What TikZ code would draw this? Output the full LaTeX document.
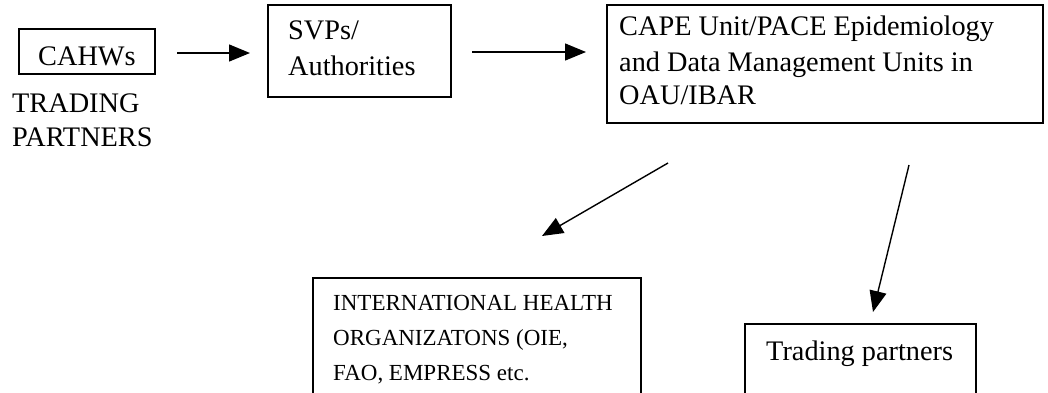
\documentclass[tikz,border=0pt]{standalone}
\usepackage{fontspec}
\setmainfont{Liberation Serif}
\usetikzlibrary{arrows.meta}
\tikzset{
  box/.style={draw=black, line width=1.1pt, inner sep=0pt},
  lbl/.style={anchor=base west, inner sep=0pt, font=\fontsize{28.3}{34}\selectfont},
  slbl/.style={anchor=base west, inner sep=0pt, font=\fontsize{23}{28}\selectfont},
  arr/.style={line width=1.4pt, -{Triangle[length=21pt,width=17pt]}}
}
\begin{document}
\begin{tikzpicture}[x=1pt,y=-1pt]
\useasboundingbox (0,0) rectangle (1048,392);
\clip (0,0) rectangle (1048,392);
% boxes
\draw[box] (19,29) rectangle (155,74);
\node[inner sep=0pt] (cahws) at (87,51.5) {};
\draw[box] (268,5) rectangle (451,97);
\node[inner sep=0pt] (svp) at (359.5,51) {};
\draw[box] (607,5) rectangle (1043,123);
\node[inner sep=0pt] (cape) at (825,64) {};
\draw[box] (313,278) rectangle (641,400);
\node[inner sep=0pt] (intl) at (477,339) {};
\draw[box] (745,324) rectangle (976,400);
\node[inner sep=0pt] (trade) at (860,362) {};
% texts
\node[lbl] (t1) at (38,65) {CAHWs};
\node[lbl] (t2) at (12,112) {TRADING};
\node[lbl] (t3) at (12,146) {PARTNERS};
\node[lbl] (t4) at (288,39) {SVPs/};
\node[lbl] (t5) at (288,75) {Authorities};
\node[lbl] (t6) at (619,35) {CAPE Unit/PACE Epidemiology};
\node[lbl] (t7) at (619,71) {and Data Management Units in};
\node[lbl] (t8) at (619,104) {OAU/IBAR};
\node[slbl] (t9) at (333,310) {INTERNATIONAL HEALTH};
\node[slbl] (t10) at (333,345) {ORGANIZATONS (OIE,};
\node[slbl] (t11) at (333,380) {FAO, EMPRESS etc.};
\node[lbl] (t12) at (766,360) {Trading partners};
% connector ends
\coordinate (a1s) at (177,53);
\coordinate (a1e) at (250,53);
\coordinate (a2s) at (472,52);
\coordinate (a2e) at (586,52);
\coordinate (a3s) at (668,163);
\coordinate (a3e) at (542,236);
\coordinate (a4s) at (909,165);
\coordinate (a4e) at (873,312);
\draw[arr] (a1s) -- (a1e);
\draw[arr] (a2s) -- (a2e);
\draw[arr] (a3s) -- (a3e);
\draw[arr] (a4s) -- (a4e);
\end{tikzpicture}
\end{document}
